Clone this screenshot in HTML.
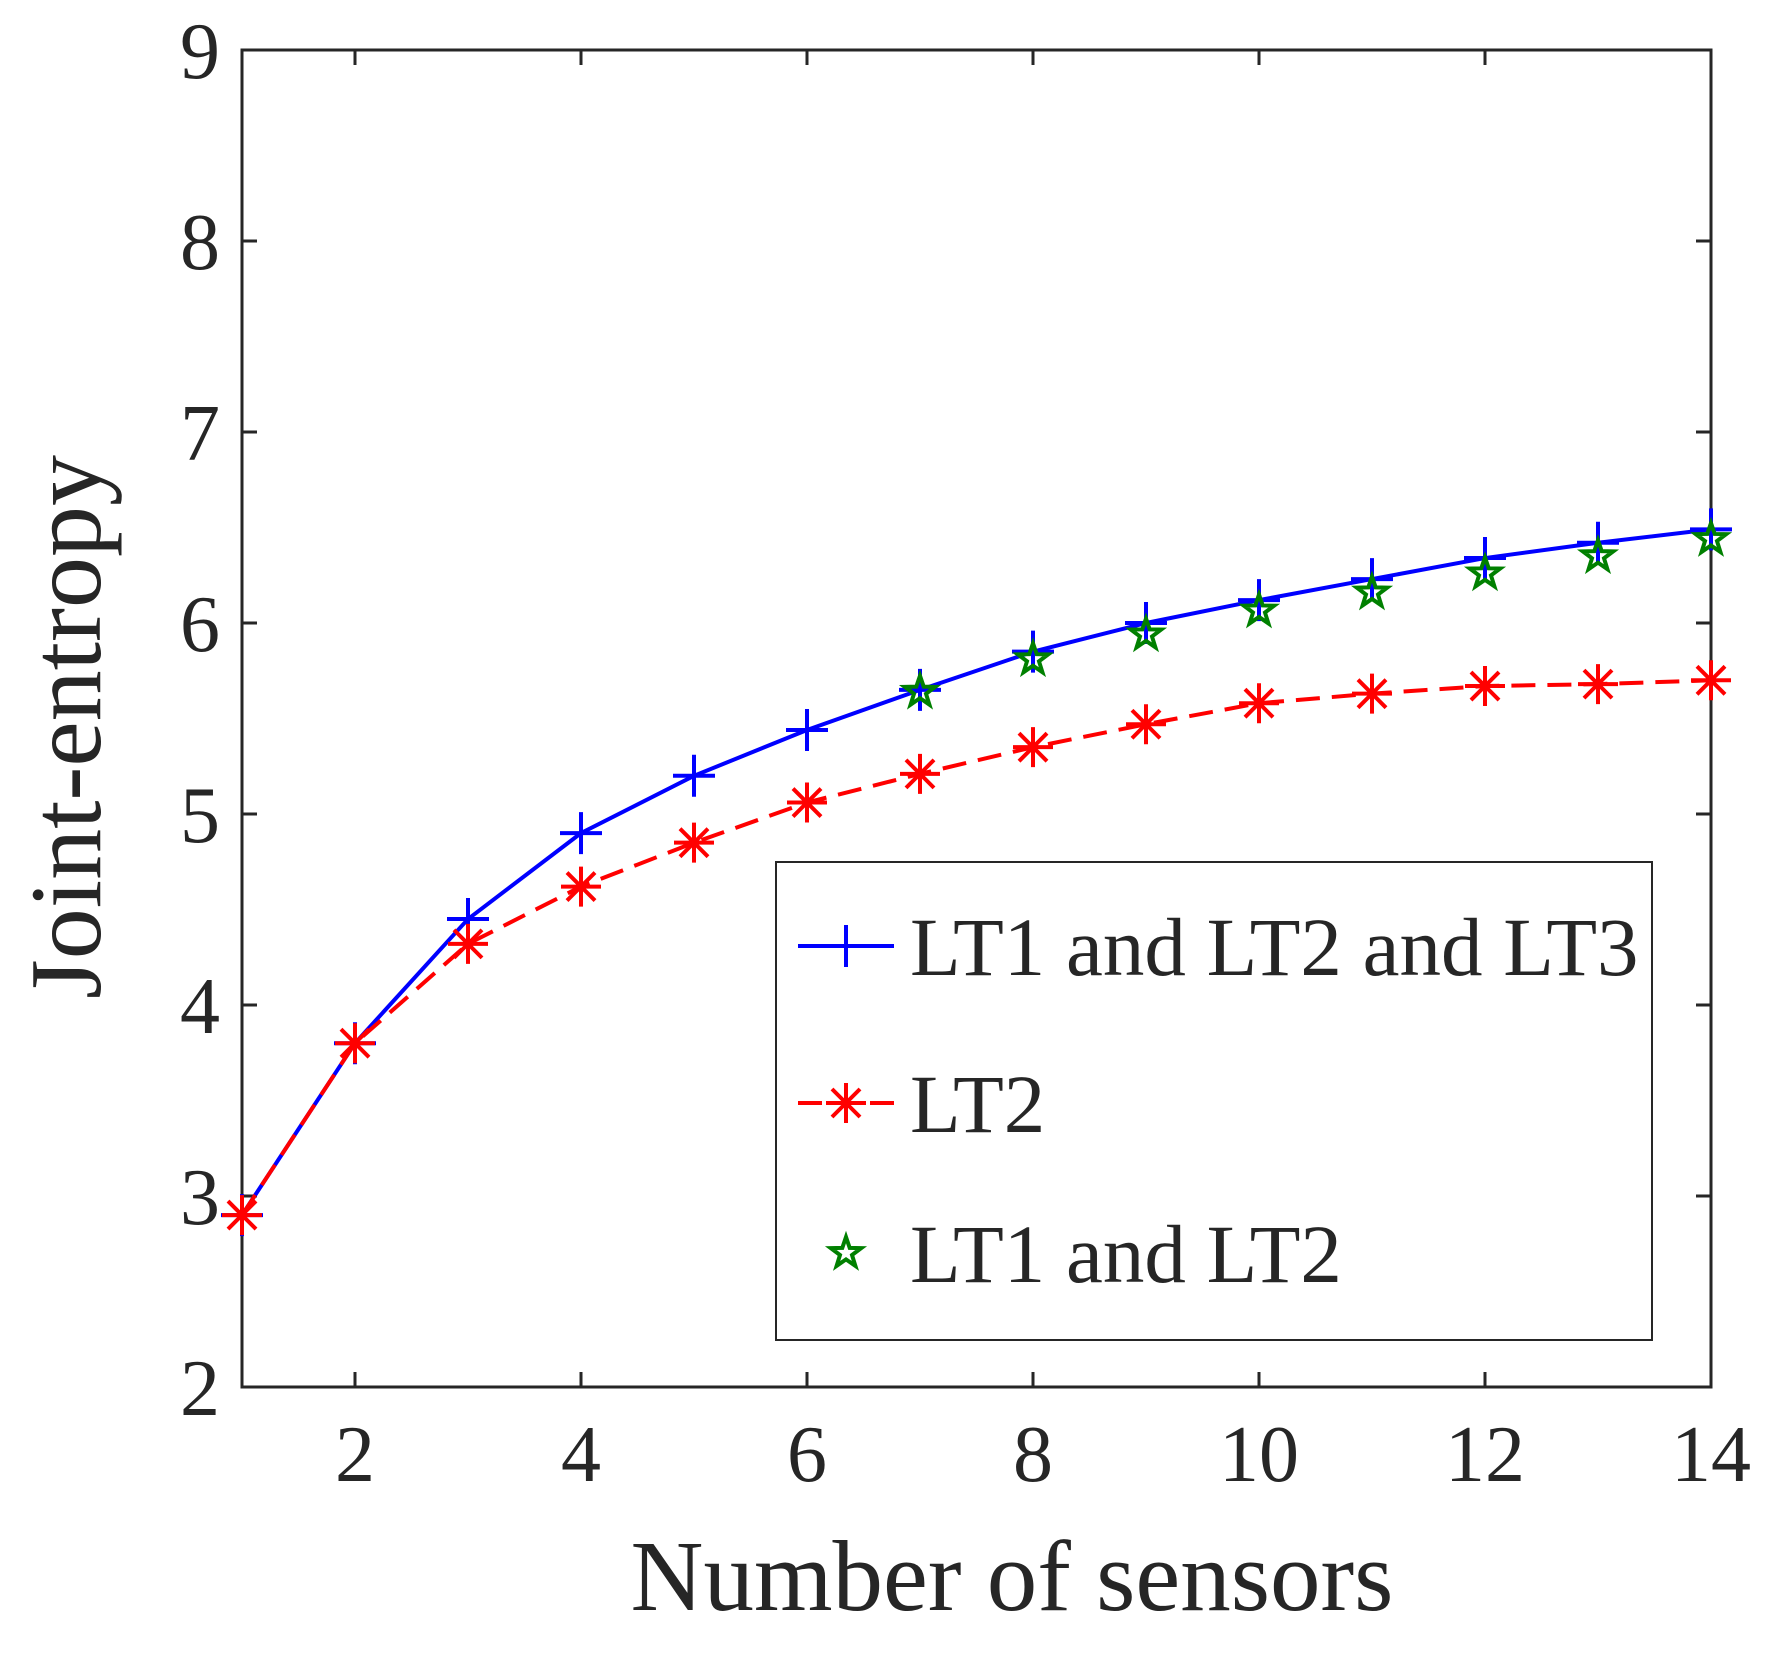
<!DOCTYPE html>
<html><head><meta charset="utf-8"><style>body{margin:0;background:#fff}</style></head><body>
<svg width="1772" height="1657" viewBox="0 0 1772 1657" xmlns="http://www.w3.org/2000/svg" font-family="Liberation Serif, serif" fill="#262626">
<defs>
<g id="plus" stroke="#0000ff" stroke-width="4" fill="none"><path d="M-21 0H21M0 -21V21"/></g>
<g id="ast" stroke="#ff0000" stroke-width="4" fill="none"><path d="M-20 0H20M0 -20V20M-14 -14L14 14M-14 14L14 -14"/></g>
<g id="star" stroke="#008000" stroke-width="4" fill="none"><path d="M0,-16 L3.7,-5.1 L15.2,-4.9 L6,2 L9.4,12.9 L0,6.4 L-9.4,12.9 L-6,2 L-15.2,-4.9 L-3.7,-5.1 Z"/></g>
</defs>
<rect x="242" y="50" width="1469" height="1337" fill="none" stroke="#262626" stroke-width="3"/>
<g stroke="#262626" stroke-width="3">
<path d="M355 1387v-15M581 1387v-15M807 1387v-15M1033 1387v-15M1259 1387v-15M1485 1387v-15M355 50v15M581 50v15M807 50v15M1033 50v15M1259 50v15M1485 50v15"/>
<path d="M242 1196h15M242 1005h15M242 814h15M242 623h15M242 432h15M242 241h15M1711 1196h-15M1711 1005h-15M1711 814h-15M1711 623h-15M1711 432h-15M1711 241h-15"/>
</g>
<g font-size="80" text-anchor="end">
<text x="220" y="1415">2</text><text x="220" y="1224">3</text><text x="220" y="1033">4</text><text x="220" y="842">5</text><text x="220" y="651">6</text><text x="220" y="460">7</text><text x="220" y="269">8</text><text x="220" y="78">9</text>
</g>
<g font-size="80" text-anchor="middle">
<text x="355" y="1481">2</text><text x="581" y="1481">4</text><text x="807" y="1481">6</text><text x="1033" y="1481">8</text><text x="1259" y="1481">10</text><text x="1485" y="1481">12</text><text x="1711" y="1481">14</text>
</g>
<text x="1012" y="1610" font-size="101" text-anchor="middle">Number of sensors</text>
<text transform="translate(100,727) rotate(-90)" font-size="102" text-anchor="middle">Joint-entropy</text>

<polyline fill="none" stroke="#0000ff" stroke-width="4" points="242,1215.1 355,1043.2 468,919.05 581,833.1 694,775.8 807,729.96 920,689.85 1033,651.65 1146,623 1259,600.08 1372,579.07 1485,558.06 1598,542.78 1711,529.41"/>
<polyline fill="none" stroke="#ff0000" stroke-width="4" stroke-dasharray="24,12" points="242,1215.1 355,1043.2 468,943.88 581,886.58 694,842.65 807,802.54 920,773.89 1033,747.15 1146,724.23 1259,703.22 1372,693.67 1485,686.03 1598,684.12 1711,680.3"/>
<g>
<use href="#plus" x="242" y="1215.1"/><use href="#plus" x="355" y="1043.2"/><use href="#plus" x="468" y="919.05"/><use href="#plus" x="581" y="833.1"/><use href="#plus" x="694" y="775.8"/><use href="#plus" x="807" y="729.96"/><use href="#plus" x="920" y="689.85"/><use href="#plus" x="1033" y="651.65"/><use href="#plus" x="1146" y="623"/><use href="#plus" x="1259" y="600.08"/><use href="#plus" x="1372" y="579.07"/><use href="#plus" x="1485" y="558.06"/><use href="#plus" x="1598" y="542.78"/><use href="#plus" x="1711" y="529.41"/>
<use href="#ast" x="242" y="1215.1"/><use href="#ast" x="355" y="1043.2"/><use href="#ast" x="468" y="943.88"/><use href="#ast" x="581" y="886.58"/><use href="#ast" x="694" y="842.65"/><use href="#ast" x="807" y="802.54"/><use href="#ast" x="920" y="773.89"/><use href="#ast" x="1033" y="747.15"/><use href="#ast" x="1146" y="724.23"/><use href="#ast" x="1259" y="703.22"/><use href="#ast" x="1372" y="693.67"/><use href="#ast" x="1485" y="686.03"/><use href="#ast" x="1598" y="684.12"/><use href="#ast" x="1711" y="680.3"/>
<use href="#star" x="920" y="691.76"/><use href="#star" x="1033" y="659.29"/><use href="#star" x="1146" y="634.46"/><use href="#star" x="1259" y="610.54"/><use href="#star" x="1372" y="592.53"/><use href="#star" x="1485" y="573.43"/><use href="#star" x="1598" y="556.24"/><use href="#star" x="1711" y="539.05"/>
</g>

<rect x="776" y="862" width="876" height="478" fill="#fff" stroke="#262626" stroke-width="2"/>
<line x1="798" y1="946" x2="894" y2="946" stroke="#0000ff" stroke-width="4"/><use href="#plus" x="846" y="946"/>
<line x1="798" y1="1103" x2="894" y2="1103" stroke="#ff0000" stroke-width="4" stroke-dasharray="24,12"/><use href="#ast" x="846" y="1103"/>
<use href="#star" x="846" y="1253"/>
<g font-size="83">
<text x="910" y="975">LT1 and LT2 and LT3</text>
<text x="910" y="1132">LT2</text>
<text x="910" y="1282">LT1 and LT2</text>
</g>
</svg>
</body></html>
